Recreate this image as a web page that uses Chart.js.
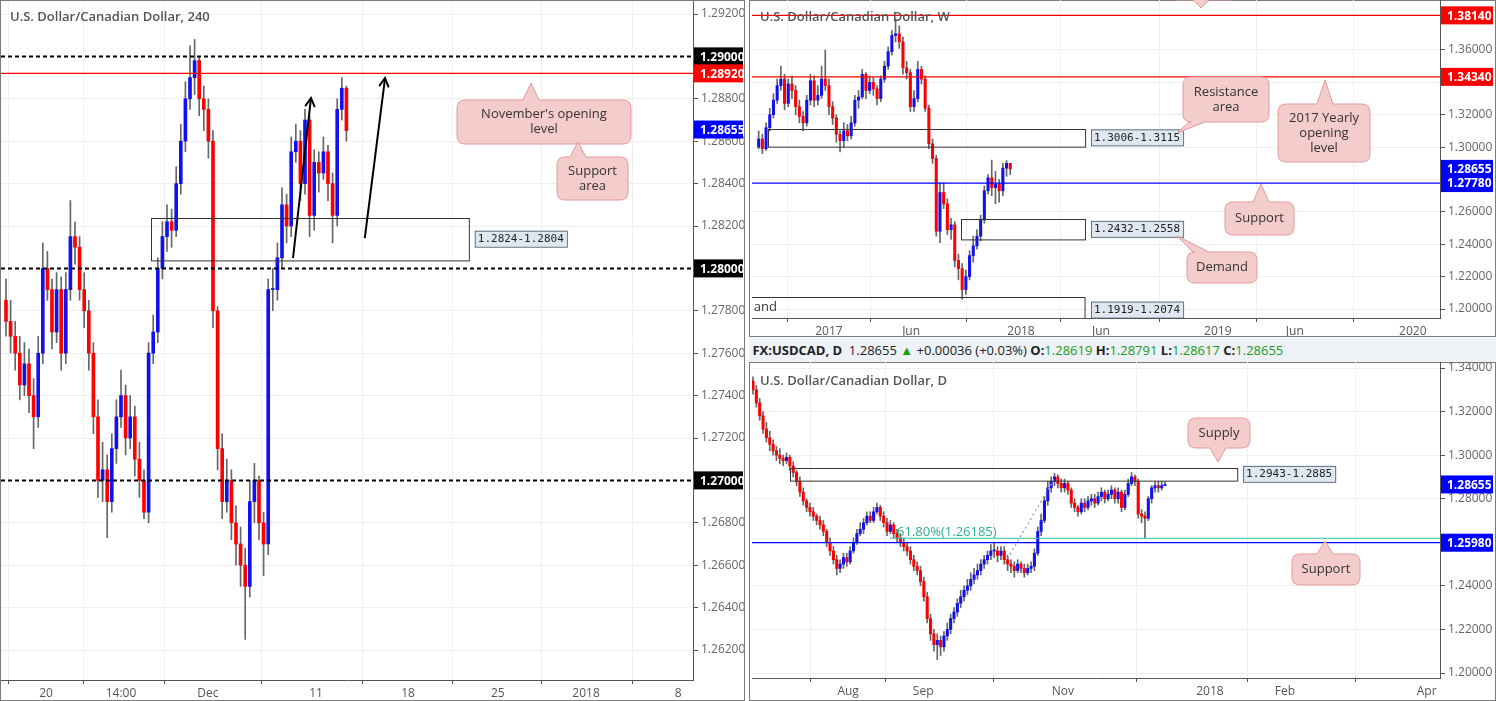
<!DOCTYPE html>
<html><head><meta charset="utf-8">
<script src="https://cdn.jsdelivr.net/npm/chart.js@4.4.1/dist/chart.umd.min.js"></script>
<style>
body{margin:0;background:#fff;width:1496px;height:701px;overflow:hidden;font-family:"Open Sans",sans-serif;}
.p{position:absolute;}
.frame{position:absolute;border:1px solid #7a7a7a;box-sizing:border-box;}
#hdr{position:absolute;left:749px;top:338px;width:747px;height:24px;background:#eef1f5;font-size:13px;line-height:24px;color:#222;white-space:nowrap;}
#hdr b{font-weight:bold}
#hdr .g{color:#1a9c1a}
.ttl{position:absolute;font-size:13px;color:#555;font-weight:600;}
</style></head><body>
<div class="frame" style="left:0;top:0;width:745px;height:701px"></div>
<div class="frame" style="left:749px;top:0;width:747px;height:337px"></div>
<div class="frame" style="left:749px;top:362px;width:747px;height:339px"></div>
<canvas id="c4" class="p" style="left:1px;top:1px" width="743" height="699"></canvas>
<canvas id="cw" class="p" style="left:749px;top:0px" width="745" height="336"></canvas>
<canvas id="cd" class="p" style="left:749px;top:362px" width="745" height="338"></canvas>
<div id="hdr">&nbsp;<b>FX:USDCAD, D</b>&nbsp; 1.28655 <span style="color:#1a9c1a">▲</span> +0.00036 (+0.03%) <b>O:</b><span class="g">1.28619</span> <b>H:</b><span class="g">1.28791</span> <b>L:</b><span class="g">1.28617</span> <b>C:</b><span class="g">1.28655</span></div>
<div class="ttl" style="left:10px;top:7px">U.S. Dollar/Canadian Dollar, 240</div>
<div class="ttl" style="left:760px;top:7px">U.S. Dollar/Canadian Dollar, W</div>
<div class="ttl" style="left:760px;top:371px">U.S. Dollar/Canadian Dollar, D</div>
<script>
// ---------- 4H data ----------
const h4Open =[1.2785,1.2775,1.2768,1.2760,1.2745,1.2755,1.2740,1.2730,1.2760,1.2800,1.2790,1.2770,1.2790,1.2760,1.2790,1.2815,1.2810,1.2790,1.2780,1.2760,1.2730,1.2700,1.2705,1.2690,1.2715,1.2730,1.2740,1.2720,1.2730,1.2710,1.2700,1.2685,1.2760,1.2770,1.2800,1.2815,1.2822,1.2818,1.2840,1.2860,1.2880,1.2890,1.2898,1.2880,1.2875,1.2860,1.2780,1.2715,1.2690,1.2700,1.2680,1.2670,1.2660,1.2650,1.2690,1.2700,1.2680,1.2670,1.2790,1.2790,1.2805,1.2830,1.2820,1.2855,1.2860,1.2840,1.2870,1.2825,1.2850,1.2845,1.2855,1.2840,1.2825,1.2875,1.2885];
const h4Close=[1.2775,1.2768,1.2760,1.2745,1.2755,1.2740,1.2730,1.2760,1.2800,1.2790,1.2770,1.2790,1.2760,1.2790,1.2815,1.2810,1.2790,1.2780,1.2760,1.2730,1.2700,1.2705,1.2690,1.2715,1.2730,1.2740,1.2720,1.2730,1.2710,1.2700,1.2685,1.2760,1.2770,1.2800,1.2815,1.2822,1.2818,1.2840,1.2860,1.2880,1.2890,1.2898,1.2880,1.2875,1.2860,1.2780,1.2715,1.2690,1.2700,1.2680,1.2670,1.2660,1.2650,1.2690,1.2700,1.2680,1.2670,1.2790,1.2790,1.2805,1.2830,1.2820,1.2855,1.2860,1.2840,1.2870,1.2825,1.2850,1.2845,1.2855,1.2840,1.2825,1.2875,1.2885,1.2865];
const h4High =[1.2795,1.2785,1.2775,1.2768,1.2765,1.2762,1.2748,1.2768,1.2812,1.2808,1.2795,1.2798,1.2796,1.2798,1.2832,1.2822,1.2815,1.2798,1.2785,1.2765,1.2738,1.2718,1.2712,1.2722,1.2738,1.2752,1.2745,1.2740,1.2735,1.2718,1.2705,1.2765,1.2778,1.2805,1.2822,1.2830,1.2828,1.2848,1.2868,1.2888,1.2905,1.2908,1.2900,1.2886,1.2880,1.2865,1.2782,1.2722,1.2710,1.2705,1.2688,1.2678,1.2668,1.2700,1.2708,1.2702,1.2685,1.2795,1.2800,1.2812,1.2838,1.2835,1.2862,1.2868,1.2865,1.2875,1.2872,1.2856,1.2855,1.2862,1.2858,1.2845,1.2880,1.2890,1.2886];
const h4Low  =[1.2768,1.2760,1.2752,1.2738,1.2740,1.2732,1.2715,1.2725,1.2755,1.2785,1.2762,1.2765,1.2752,1.2755,1.2785,1.2802,1.2785,1.2772,1.2752,1.2722,1.2692,1.2690,1.2673,1.2685,1.2708,1.2725,1.2712,1.2715,1.2702,1.2692,1.2682,1.2680,1.2755,1.2765,1.2795,1.2808,1.2810,1.2815,1.2835,1.2855,1.2875,1.2882,1.2872,1.2865,1.2852,1.2772,1.2705,1.2682,1.2685,1.2672,1.2660,1.2650,1.2625,1.2645,1.2680,1.2672,1.2655,1.2665,1.2780,1.2785,1.2800,1.2812,1.2815,1.2850,1.2832,1.2835,1.2815,1.2818,1.2836,1.2842,1.2832,1.2812,1.2820,1.2870,1.2860];
const h4YTicks=[1.2920,1.2880,1.2860,1.2840,1.2820,1.2780,1.2760,1.2740,1.2720,1.2680,1.2660,1.2640,1.2620];
const h4XTickPos=[8.7,25.0,43.9,67.4,87.4,106.9,126.1,146.1];
const h4XTickLabels=["20","14:00","Dec","11","18","25","2018","8"];

// ---------- Weekly data ----------
const wClose=[1.3050,1.2990,1.3120,1.3200,1.3290,1.3380,1.3420,1.3270,1.3390,1.3350,1.3250,1.3190,1.3150,1.3290,1.3410,1.3290,1.3320,1.3420,1.3380,1.3250,1.3180,1.3080,1.3040,1.3100,1.3070,1.3150,1.3290,1.3310,1.3450,1.3350,1.3400,1.3360,1.3300,1.3420,1.3500,1.3590,1.3690,1.3700,1.3650,1.3490,1.3460,1.3250,1.3300,1.3480,1.3420,1.3240,1.3020,1.2930,1.2480,1.2720,1.2650,1.2490,1.2520,1.2300,1.2250,1.2120,1.2200,1.2330,1.2390,1.2450,1.2550,1.2730,1.2810,1.2750,1.2770,1.2730,1.2870,1.2900,1.2865];
const wHigh =[1.3100,1.3080,1.3150,1.3240,1.3330,1.3420,1.3500,1.3450,1.3420,1.3440,1.3380,1.3290,1.3220,1.3320,1.3450,1.3440,1.3380,1.3500,1.3600,1.3420,1.3280,1.3200,1.3100,1.3150,1.3140,1.3190,1.3320,1.3350,1.3480,1.3460,1.3440,1.3430,1.3380,1.3440,1.3530,1.3620,1.3720,1.3793,1.3750,1.3680,1.3530,1.3480,1.3350,1.3530,1.3500,1.3440,1.3260,1.3050,1.2950,1.2780,1.2780,1.2680,1.2560,1.2540,1.2340,1.2280,1.2240,1.2360,1.2450,1.2490,1.2580,1.2760,1.2830,1.2920,1.2850,1.2800,1.2900,1.2917,1.2880];
const wLow  =[1.2990,1.2960,1.2980,1.3100,1.3180,1.3270,1.3350,1.3230,1.3250,1.3300,1.3200,1.3150,1.3100,1.3130,1.3260,1.3250,1.3260,1.3300,1.3350,1.3200,1.3140,1.3030,1.2970,1.3000,1.3040,1.3050,1.3130,1.3240,1.3300,1.3300,1.3330,1.3320,1.3260,1.3280,1.3400,1.3480,1.3570,1.3650,1.3610,1.3450,1.3420,1.3220,1.3220,1.3280,1.3390,1.3220,1.2990,1.2900,1.2450,1.2410,1.2620,1.2460,1.2430,1.2260,1.2180,1.2061,1.2090,1.2180,1.2290,1.2370,1.2420,1.2530,1.2710,1.2700,1.2650,1.2660,1.2700,1.2820,1.2830];
const wFirstOpen=1.3000, wFirstWeek=-19;
const wYTicks=[1.36,1.34,1.32,1.30,1.28,1.26,1.24,1.22,1.20];
const wXTickPos=[0,22.2,51.9,73.5,105.1,125.9,157.8];
const wXTickLabels=["2017","Jun","2018","Jun","2019","Jun","2020"];

// ---------- Daily data ----------
const dClose=[1.3300,1.3240,1.3180,1.3120,1.3080,1.3050,1.3020,1.3000,1.2985,1.2975,1.2990,1.2950,1.2920,1.2880,1.2830,1.2790,1.2760,1.2740,1.2720,1.2700,1.2680,1.2650,1.2600,1.2560,1.2520,1.2480,1.2500,1.2530,1.2510,1.2560,1.2600,1.2640,1.2660,1.2690,1.2720,1.2700,1.2740,1.2760,1.2720,1.2690,1.2650,1.2680,1.2640,1.2620,1.2600,1.2580,1.2560,1.2520,1.2490,1.2470,1.2420,1.2350,1.2250,1.2180,1.2130,1.2150,1.2120,1.2170,1.2200,1.2250,1.2280,1.2320,1.2350,1.2380,1.2400,1.2430,1.2450,1.2470,1.2500,1.2520,1.2540,1.2560,1.2560,1.2540,1.2560,1.2520,1.2500,1.2490,1.2470,1.2500,1.2480,1.2460,1.2480,1.2490,1.2550,1.2650,1.2700,1.2790,1.2850,1.2880,1.2900,1.2870,1.2850,1.2870,1.2840,1.2780,1.2760,1.2740,1.2780,1.2760,1.2790,1.2800,1.2780,1.2810,1.2830,1.2800,1.2820,1.2840,1.2800,1.2830,1.2760,1.2820,1.2870,1.2900,1.2880,1.2730,1.2720,1.2710,1.2800,1.2850,1.2860,1.2850,1.2860,1.2865];
const dHigh =[1.3360,1.3320,1.3260,1.3200,1.3150,1.3110,1.3070,1.3040,1.3030,1.3000,1.3010,1.3000,1.2970,1.2930,1.2900,1.2850,1.2800,1.2780,1.2760,1.2730,1.2720,1.2700,1.2660,1.2620,1.2580,1.2540,1.2520,1.2550,1.2550,1.2580,1.2620,1.2660,1.2690,1.2710,1.2740,1.2740,1.2760,1.2780,1.2770,1.2740,1.2710,1.2700,1.2690,1.2660,1.2640,1.2620,1.2600,1.2580,1.2540,1.2510,1.2490,1.2440,1.2370,1.2270,1.2200,1.2180,1.2170,1.2190,1.2230,1.2270,1.2300,1.2340,1.2380,1.2400,1.2430,1.2460,1.2480,1.2500,1.2520,1.2540,1.2560,1.2590,1.2600,1.2580,1.2580,1.2580,1.2540,1.2520,1.2510,1.2520,1.2510,1.2500,1.2500,1.2510,1.2570,1.2670,1.2730,1.2810,1.2880,1.2900,1.2917,1.2910,1.2890,1.2890,1.2880,1.2850,1.2800,1.2770,1.2800,1.2800,1.2810,1.2820,1.2820,1.2830,1.2850,1.2840,1.2840,1.2860,1.2850,1.2850,1.2840,1.2840,1.2890,1.2920,1.2910,1.2890,1.2750,1.2740,1.2810,1.2860,1.2880,1.2880,1.2880,1.2879];
const dLow  =[1.3280,1.3220,1.3160,1.3100,1.3060,1.3020,1.3000,1.2975,1.2960,1.2950,1.2960,1.2930,1.2900,1.2860,1.2810,1.2770,1.2740,1.2720,1.2700,1.2680,1.2660,1.2630,1.2580,1.2540,1.2500,1.2450,1.2460,1.2480,1.2490,1.2500,1.2550,1.2590,1.2630,1.2640,1.2680,1.2690,1.2690,1.2730,1.2700,1.2670,1.2630,1.2640,1.2620,1.2600,1.2580,1.2560,1.2540,1.2500,1.2470,1.2450,1.2400,1.2330,1.2230,1.2150,1.2100,1.2061,1.2080,1.2100,1.2150,1.2180,1.2230,1.2260,1.2300,1.2330,1.2360,1.2380,1.2410,1.2430,1.2450,1.2480,1.2500,1.2520,1.2530,1.2510,1.2520,1.2500,1.2470,1.2460,1.2440,1.2460,1.2460,1.2440,1.2450,1.2460,1.2470,1.2540,1.2630,1.2690,1.2770,1.2830,1.2860,1.2850,1.2830,1.2830,1.2820,1.2760,1.2740,1.2720,1.2730,1.2740,1.2750,1.2770,1.2760,1.2770,1.2790,1.2780,1.2790,1.2800,1.2780,1.2780,1.2740,1.2750,1.2810,1.2860,1.2860,1.2710,1.2690,1.2620,1.2700,1.2780,1.2830,1.2830,1.2840,1.2862];
const dFirstOpen=1.3340;
const dYTicks=[1.34,1.32,1.30,1.28,1.26,1.24,1.22,1.20];
const dXTickPos=[28.4,50.8,92.5,136.4,158.8,201.1];
const dXTickLabels=["Aug","Sep","Nov","2018","Feb","Apr"];

const UP='#1010f0', DN='#ff0000', WICK='#666';

function candleSets(xs,o,h,l,c,w){
  const body=[],wick=[],col=[];
  for(let i=0;i<c.length;i++){
    body.push({x:xs[i],y:[o[i],c[i]]});
    wick.push({x:xs[i],y:[l[i],h[i]]});
    col.push(c[i]>=o[i]?UP:DN);
  }
  return [
    {type:'bar',data:wick,backgroundColor:WICK,barThickness:1,grouped:false,order:2},
    {type:'bar',data:body,backgroundColor:col,barThickness:w,grouped:false,minBarLength:1,order:1}
  ];
}

function overlay(cfg){
  return {id:'ov',afterDraw(ch){
    const ctx=ch.ctx,xs=ch.scales.x,ys=ch.scales.y,a=ch.chartArea;
    const X=v=>xs.getPixelForValue(v),Y=v=>ys.getPixelForValue(v);
    ctx.save();
    ctx.beginPath();ctx.rect(a.left,a.top,a.right-a.left,a.bottom-a.top);ctx.clip();
    (cfg.lines||[]).forEach(L=>{
      ctx.save();
      ctx.beginPath();ctx.strokeStyle=L.color;ctx.lineWidth=L.w||1.2;ctx.setLineDash(L.dash?L.dash:[]);
      const x0=L.x0!==undefined?X(L.x0):a.left,x1=L.x1!==undefined?X(L.x1):a.right;
      const y0=Y(L.v),y1=Y(L.v1!==undefined?L.v1:L.v);
      ctx.moveTo(x0,y0);ctx.lineTo(x1,y1);ctx.stroke();
      ctx.restore();
    });
    ctx.setLineDash([]);
    (cfg.boxes||[]).forEach(B=>{
      ctx.strokeStyle='#333';ctx.lineWidth=1;
      const x0=X(B.x0),x1=X(B.x1),y0=Y(B.hi),y1=Y(B.lo);
      ctx.strokeRect(Math.round(x0)+0.5,Math.round(y0)+0.5,x1-x0,y1-y0);
      ctx.font='11px "DejaVu Sans Mono",monospace';
      const tw=ctx.measureText(B.label).width+6;
      const lx=x1+6,ly=(y0+y1)/2-8;
      ctx.fillStyle='#dfe8f0';ctx.fillRect(lx,ly,tw,16);
      ctx.strokeStyle='#607080';ctx.strokeRect(lx+0.5,ly+0.5,tw,16);
      ctx.fillStyle='#222';ctx.textBaseline='middle';ctx.fillText(B.label,lx+3,ly+8.5);
    });
    (cfg.arrows||[]).forEach(A=>{
      const x0=X(A.x0),y0=Y(A.v0),x1=X(A.x1),y1=Y(A.v1);
      ctx.strokeStyle='#000';ctx.lineWidth=2;ctx.beginPath();ctx.moveTo(x0,y0);ctx.lineTo(x1,y1);ctx.stroke();
      const ang=Math.atan2(y1-y0,x1-x0);
      ctx.beginPath();ctx.moveTo(x1-10*Math.cos(ang-0.5),y1-10*Math.sin(ang-0.5));ctx.lineTo(x1,y1);
      ctx.lineTo(x1-10*Math.cos(ang+0.5),y1-10*Math.sin(ang+0.5));ctx.stroke();
    });
    (cfg.texts||[]).forEach(T=>{
      ctx.font=T.font;ctx.fillStyle=T.color;ctx.textBaseline='middle';ctx.fillText(T.t,X(T.x),Y(T.v));
    });
    ctx.restore();
    ctx.save();
    (cfg.callouts||[]).forEach(C=>{
      ctx.fillStyle='#f4cccc';ctx.strokeStyle='#e39a9a';ctx.lineWidth=1;
      const {x,y,w,h,px,py,bx}=C, r=8;
      ctx.beginPath();
      ctx.moveTo(x+r,y);
      if(py<y){ctx.lineTo(bx-8,y);ctx.lineTo(px,py);ctx.lineTo(bx+8,y);}
      ctx.lineTo(x+w-r,y);ctx.quadraticCurveTo(x+w,y,x+w,y+r);
      ctx.lineTo(x+w,y+h-r);ctx.quadraticCurveTo(x+w,y+h,x+w-r,y+h);
      if(py>y+h){ctx.lineTo(bx+8,y+h);ctx.lineTo(px,py);ctx.lineTo(bx-8,y+h);}
      ctx.lineTo(x+r,y+h);ctx.quadraticCurveTo(x,y+h,x,y+h-r);
      ctx.lineTo(x,y+r);ctx.quadraticCurveTo(x,y,x+r,y);
      ctx.closePath();ctx.fill();ctx.stroke();
      ctx.fillStyle='#333';ctx.font='13px "Open Sans",sans-serif';ctx.textAlign='center';ctx.textBaseline='middle';
      const n=C.lines.length;
      C.lines.forEach((s,i)=>ctx.fillText(s,x+w/2,y+h/2+(i-(n-1)/2)*15));
      ctx.textAlign='left';
    });
    (cfg.badges||[]).forEach(B=>{
      const y=Y(B.v);
      ctx.fillStyle=B.bg;ctx.fillRect(a.right+1,y-9,ch.width-a.right-2,18);
      ctx.fillStyle='#fff';ctx.font='bold 12px "Open Sans",sans-serif';ctx.textBaseline='middle';
      ctx.fillText(B.v.toFixed(5),a.right+7,y+1);
    });
    ctx.restore();
  }};
}

function makeChart(id,sets,xr,yr,yTicks,xPos,xLab,axW,axH,ov){
  new Chart(document.getElementById(id),{
    data:{datasets:sets},
    options:{responsive:false,animation:false,events:[],
      layout:{padding:{left:xr.padL||0,top:0,right:0,bottom:0}},
      plugins:{legend:{display:false},tooltip:{enabled:false}},
      scales:{
        x:{type:'linear',min:xr.min,max:xr.max,offset:false,
          afterBuildTicks:s=>{s.ticks=xPos.map(v=>({value:v}));},
          afterFit:s=>{s.height=axH;s.paddingLeft=0;s.paddingRight=0;},
          ticks:{autoSkip:false,maxRotation:0,color:'#555',font:{size:12,family:'Open Sans'},padding:2,
            callback:(v,i)=>xLab[i]},
          grid:{color:'#f0f0f0',tickLength:4,tickColor:'#555'},border:{color:'#555'}},
        y:{position:'right',min:yr.min,max:yr.max,
          afterBuildTicks:s=>{s.ticks=yTicks.map(v=>({value:v}));},
          afterFit:s=>{s.width=axW;s.paddingTop=0;s.paddingBottom=0;},
          ticks:{color:'#666',font:{size:12,family:'Open Sans'},padding:3,callback:v=>v.toFixed(5)},
          grid:{color:'#f0f0f0',tickLength:5,tickColor:'#555'},border:{color:'#555'}}
      }},
    plugins:[ov]
  });
}

// 4H
const h4x=h4Close.map((_,i)=>i);
makeChart('c4',candleSets(h4x,h4Open,h4High,h4Low,h4Close,3),
  {min:-1.087,max:-1.087+692/4.6},{min:1.2920-(679-13)/21200,max:1.2920+13/21200},
  h4YTicks,h4XTickPos,h4XTickLabels,51,20,
  overlay({
    lines:[{v:1.2900,color:'#000',w:2,dash:[4,3]},{v:1.2800,color:'#000',w:2,dash:[4,3]},{v:1.2700,color:'#000',w:2,dash:[4,3]},{v:1.2892,color:'#ff0000',w:1.2}],
    boxes:[{x0:31.5,x1:100.6,hi:1.2824,lo:1.2804,label:'1.2824-1.2804'}],
    arrows:[{x0:62.4,v0:1.28049,x1:66.3,v1:1.28804},{x0:78.0,v0:1.28143,x1:82.4,v1:1.28898}],
    callouts:[{x:456,y:99,w:174,h:44,px:530,py:82,bx:530,lines:["November's opening","level"]},
              {x:556,y:156,w:71,h:43,px:577,py:141,bx:577,lines:["Support","area"]}],
    badges:[{v:1.2900,bg:'#000'},{v:1.2892,bg:'#ff0000'},{v:1.2800,bg:'#000'},{v:1.2700,bg:'#000'},{v:1.28655,bg:'#0000ff'}]
  }));

// Weekly
const wx=wClose.map((_,i)=>i+wFirstWeek);
const wOpen=wClose.map((_,i)=>i===0?wFirstOpen:wClose[i-1]);
makeChart('cw',candleSets(wx,wOpen,wHigh,wLow,wClose,2.4),
  {min:-20.8,max:-20.8+688/3.7,padL:3},{min:1.36-(318-50)/1618.75,max:1.36+50/1618.75},
  wYTicks,wXTickPos,wXTickLabels,54,18,
  overlay({
    lines:[{v:1.3814,color:'#ff0000'},{v:1.3434,color:'#ff0000'},{v:1.2778,color:'#0000ff'}],
    boxes:[{x0:-16.5,x1:69.2,hi:1.3115,lo:1.3006,label:'1.3006-1.3115'},
           {x0:35.7,x1:69.2,hi:1.2558,lo:1.2432,label:'1.2432-1.2558'},
           {x0:-25,x1:69.2,hi:1.2074,lo:1.1919,label:'1.1919-1.2074'}],
    texts:[{t:'and',x:-20.3,v:1.2010,font:'13px "Open Sans"',color:'#333'}],
    callouts:[{x:434,y:77,w:86,h:45,px:428,py:133,bx:448,lines:['Resistance','area']},
              {x:529,y:104,w:92,h:58,px:576,py:80,bx:576,lines:['2017 Yearly','opening','level']},
              {x:476,y:202,w:69,h:33,px:512,py:184,bx:512,lines:['Support']},
              {x:438,y:252,w:70,h:31,px:428,py:236,bx:452,lines:['Demand']},
              {x:420,y:-30,w:70,h:30,px:452,py:8,bx:452,lines:['']}],
    badges:[{v:1.3814,bg:'#ff0000'},{v:1.3434,bg:'#ff0000'},{v:1.28655,bg:'#0000ff'},{v:1.2778,bg:'#0000ff'}]
  }));

// Daily
const dx=dClose.map((_,i)=>i);
const dOpen=dClose.map((_,i)=>i===0?dFirstOpen:dClose[i-1]);
makeChart('cd',candleSets(dx,dOpen,dHigh,dLow,dClose,2.4),
  {min:-0.3,max:-0.3+688/3.35,padL:3},{min:1.34-(316-6)/2178.6,max:1.34+6/2178.6},
  dYTicks,dXTickPos,dXTickLabels,54,22,
  overlay({
    lines:[{v:1.2598,color:'#0000ff'},{v:1.26185,color:'#30c0a0',x0:40.9},
           {v:1.2505,v1:1.2895,x0:75.2,x1:90.1,color:'#999',dash:[2,3]}],
    boxes:[{x0:11.0,x1:144.5,hi:1.2943,lo:1.2885,label:'1.2943-1.2885'}],
    texts:[{t:'61.80%(1.26185)',x:43.0,v:1.2645,font:'13px "Open Sans"',color:'#30b090'}],
    callouts:[{x:439,y:56,w:62,h:30,px:469,py:100,bx:469,lines:['Supply']},
              {x:543,y:192,w:68,h:31,px:576,py:179,bx:576,lines:['Support']}],
    badges:[{v:1.28655,bg:'#0000ff'},{v:1.2598,bg:'#0000ff'}]
  }));
</script>
</body></html>
